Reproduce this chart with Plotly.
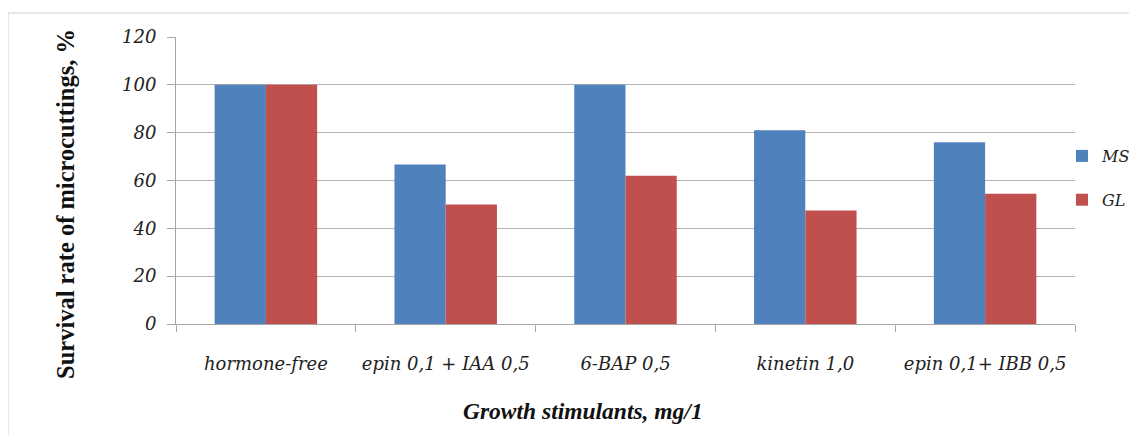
import plotly.graph_objects as go

categories = ["hormone-free", "epin 0,1 + IAA 0,5", "6-BAP 0,5", "kinetin 1,0", "epin 0,1+ IBB 0,5"]
ms_values = [100, 66.7, 100, 81, 76]
gl_values = [100, 50, 62, 47.5, 54.5]
y_ticks = [0, 20, 40, 60, 80, 100, 120]

# page has an 8px body margin, so the figure is offset by (8, 8)
OFF = 8
W, H = 1137 - OFF, 435 - OFF
L, T = 176 - OFF, 37 - OFF
R = W - (1075 - OFF)
B = H - (324 - OFF)

fig = go.Figure()
fig.add_trace(go.Bar(x=categories, y=ms_values, name="MS", marker=dict(color="#4f81bd", line=dict(width=0)),
                     legendgroup="a"))
fig.add_trace(go.Bar(x=categories, y=gl_values, name="GL", marker=dict(color="#c0504d", line=dict(width=0)),
                     legendgroup="b"))

pw = W - L - R
ph = H - T - B

def px_x(p):
    return (p - OFF - L) / pw

def px_y(p):
    return (H - B - (p - OFF)) / ph

fig.update_layout(
    width=W, height=H,
    margin=dict(l=L, r=R, t=T, b=B, autoexpand=False),
    paper_bgcolor="white", plot_bgcolor="white",
    barmode="group", bargap=0.43, bargroupgap=0,
    font=dict(family="DejaVu Serif", color="#222222"),
    legend=dict(x=px_x(1062), y=px_y(139), xanchor="left", yanchor="top",
                font=dict(family="DejaVu Serif", size=16, style="italic", color="#222222"),
                tracegroupgap=20, bgcolor="rgba(0,0,0,0)", itemwidth=30),
    xaxis=dict(
        type="category", showline=True, linecolor="#a6a6a6", linewidth=1,
        ticks="outside", tickson="boundaries", ticklen=7, tickcolor="#a6a6a6",
        tickfont=dict(family="DejaVu Serif", size=18, style="italic", color="#222222"),
        tickangle=0, ticklabelstandoff=23,
        showgrid=False,
    ),
    yaxis=dict(
        range=[0, 120], tickvals=y_ticks, showline=True, linecolor="#a6a6a6", linewidth=1,
        ticks="outside", ticklen=8, tickcolor="#a6a6a6",
        showgrid=True, gridcolor="#b3b3b3", gridwidth=1,
        tickfont=dict(family="DejaVu Serif", size=18, style="italic", color="#222222"),
        ticklabelstandoff=7,
        zeroline=False,
    ),
    annotations=[
        dict(text="Growth stimulants, mg/1", xref="paper", yref="paper",
             x=px_x(583), y=px_y(411), xanchor="center", yanchor="middle", showarrow=False,
             font=dict(family="Liberation Serif", size=23.5, weight="bold", style="italic", color="#111111")),
        dict(text="Survival rate of microcuttings, %", xref="paper", yref="paper",
             x=px_x(65), y=px_y(204), xanchor="center", yanchor="middle", showarrow=False, textangle=-90,
             font=dict(family="Liberation Serif", size=24.5, weight="bold", color="#111111")),
    ],
    shapes=[dict(type="rect", xref="paper", yref="paper",
                 x0=px_x(8), x1=px_x(1145), y0=px_y(445), y1=px_y(13),
                 line=dict(color="#d0d0d0", width=1), fillcolor="rgba(0,0,0,0)", layer="below")],
)

fig.write_html("out.html")
